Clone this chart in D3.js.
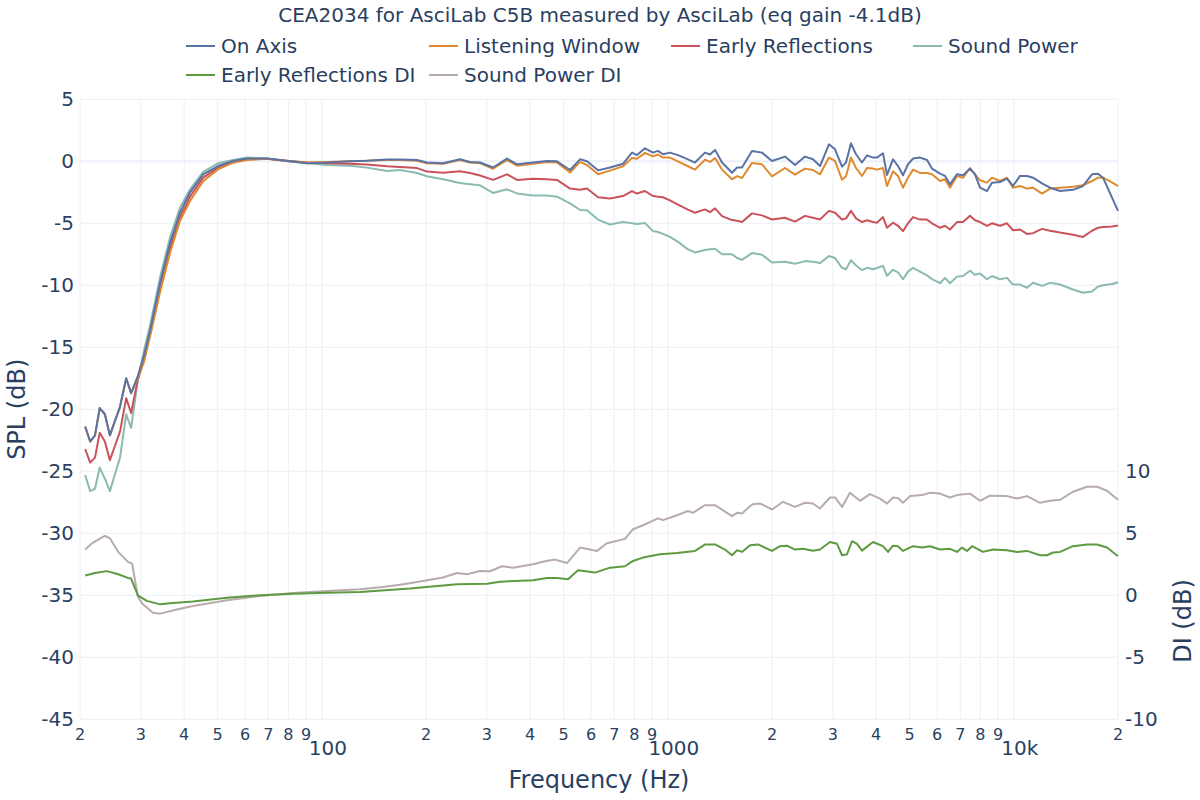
<!DOCTYPE html>
<html>
<head>
<meta charset="utf-8">
<script src="https://cdn.jsdelivr.net/npm/d3@7"></script>
<style>
  html, body { margin: 0; padding: 0; background: #ffffff; }
  svg { display: block; font-family: "DejaVu Sans", Verdana, sans-serif; }
</style>
</head>
<body>
<svg id="chart" width="1200" height="800"></svg>
<script>
const titleText = "CEA2034 for AsciLab C5B measured by AsciLab (eq gain -4.1dB)";

const splFreq = [20.7, 21.4, 22.1, 22.8, 23.6, 24.4, 25.2, 26.1, 27.2, 28.1,
  29.4, 30.6, 31.9, 34.1, 36.4, 38.9, 41.6, 45.4, 50.1, 55.4,
  60.8, 69.4, 79.3, 90.6, 103.5, 120.6, 135, 154.3, 168.2, 188.4,
  201.3, 224, 250.7, 268, 286.5, 312.4, 342.8, 366.6, 407.7, 447.5,
  478.2, 521.6, 557.5, 584, 628.3, 680.5, 742, 787.7, 814.4, 858.9,
  905.8, 936.5, 968.2, 1014, 1070, 1143, 1198, 1280, 1324, 1369,
  1434, 1533, 1585, 1638, 1751, 1871, 2000, 2181, 2331, 2491,
  2627, 2753, 2922, 3042, 3187, 3273, 3383, 3498, 3640, 3764,
  3917, 4022, 4186, 4299, 4474, 4626, 4782, 4944, 5112, 5355,
  5611, 5800, 6118, 6325, 6539, 6850, 7129, 7469, 7722, 7984,
  8364, 8647, 9120, 9555, 9945, 10419, 10916, 11361, 12061, 12721,
  13597, 14826, 15846, 16824, 17510, 18102, 19220, 20000];

const onAxis = [-21.4, -22.6, -22.1, -19.9, -20.4, -22.1, -21.0, -19.8, -17.5, -18.7,
  -17.3, -15.7, -13.6, -9.8, -6.6, -4.15, -2.5, -1.05, -0.38, 0.03,
  0.22, 0.22, 0.05, -0.15, -0.1, 0.0, 0.05, 0.15, 0.15, 0.1,
  -0.1, -0.15, 0.16, -0.05, -0.1, -0.5, 0.22, -0.24, -0.1, 0.03,
  0.0, -0.7, 0.16, 0.0, -0.73, -0.5, -0.2, 0.7, 0.5, 1.05,
  0.7, 0.84, 0.57, 0.7, 0.5, 0.16, -0.1, 0.7, 0.55, 0.92,
  -0.1, -0.92, -0.5, -0.5, 0.83, 0.7, 0.03, 0.38, -0.3, 0.38,
  0.16, -0.38, 1.37, 0.97, -0.43, -0.1, 1.45, 0.57, -0.1, 0.48,
  0.3, 0.3, 0.65, -1.1, 0.16, -0.38, -1.13, -0.24, 0.22, 0.3,
  0.1, -0.59, -1.0, -1.18, -1.86, -1.05, -1.13, -0.59, -1.05, -2.13,
  -2.4, -1.72, -1.67, -1.4, -1.99, -1.18, -1.18, -1.32, -1.78, -2.13,
  -2.4, -2.3, -1.99, -1.05, -1.0, -1.32, -2.93, -4.0];

const listeningWindow = [-21.4, -22.6, -22.1, -19.9, -20.4, -22.1, -21.0, -19.8, -17.5, -18.7,
  -17.5, -16.2, -14.1, -10.5, -7.4, -4.8, -3.2, -1.6, -0.65, -0.11,
  0.11, 0.2, 0.05, -0.1, -0.05, 0.0, 0.05, 0.1, 0.1, 0.05,
  -0.15, -0.2, 0.1, -0.1, -0.15, -0.6, 0.1, -0.35, -0.2, -0.05,
  -0.1, -0.9, -0.05, -0.3, -1.05, -0.75, -0.4, 0.27, 0.2, 0.68,
  0.4, 0.55, 0.3, 0.3, 0.0, -0.4, -0.67, 0.13, -0.05, 0.27,
  -0.67, -1.45, -1.2, -1.35, -0.13, -0.24, -1.21, -0.54, -1.08, -0.59,
  -0.7, -1.05, 0.3, 0.03, -1.48, -1.21, 0.3, -0.54, -1.18, -0.54,
  -0.59, -0.67, -0.54, -2.0, -0.81, -1.18, -2.13, -1.32, -0.67, -0.94,
  -0.94, -1.05, -1.59, -1.45, -2.13, -1.18, -1.32, -0.54, -1.05, -1.53,
  -1.72, -1.32, -1.59, -1.32, -2.13, -1.99, -2.2, -2.13, -2.6, -2.2,
  -2.13, -2.05, -1.94, -1.59, -1.32, -1.32, -1.7, -2.0];

const earlyReflections = [-23.2, -24.3, -23.9, -21.9, -22.6, -24.1, -23.0, -21.8, -19.1, -20.3,
  -17.6, -16.0, -13.9, -10.1, -7.0, -4.55, -2.85, -1.32, -0.51, -0.05,
  0.16, 0.2, 0.03, -0.1, -0.15, -0.19, -0.25, -0.4, -0.46, -0.55,
  -0.83, -0.92, -0.8, -0.95, -1.15, -1.5, -1.05, -1.5, -1.4, -1.45,
  -1.5, -2.2, -2.3, -2.2, -2.9, -3.0, -2.8, -2.4, -2.6, -2.4,
  -2.8, -2.85, -2.9, -3.15, -3.5, -3.9, -4.15, -3.88, -4.1, -3.8,
  -4.42, -4.74, -4.8, -4.89, -4.2, -4.36, -4.69, -4.55, -4.86, -4.4,
  -4.55, -4.69, -4.0, -4.15, -4.7, -4.6, -4.0, -4.6, -4.9, -4.75,
  -4.9, -4.95, -4.5, -5.36, -4.95, -5.2, -5.63, -5.0, -4.5, -4.7,
  -4.7, -5.0, -5.36, -5.2, -5.5, -4.9, -4.9, -4.4, -4.75, -4.9,
  -5.2, -5.0, -5.2, -5.0, -5.56, -5.5, -5.86, -5.8, -5.45, -5.6,
  -5.75, -5.92, -6.1, -5.6, -5.36, -5.3, -5.25, -5.17];

const soundPower = [-25.3, -26.6, -26.4, -24.7, -25.6, -26.6, -25.3, -23.9, -20.4, -21.5,
  -17.6, -15.3, -13.2, -9.3, -6.16, -3.74, -2.26, -0.86, -0.16, 0.11,
  0.3, 0.22, 0.0, -0.15, -0.3, -0.35, -0.51, -0.78, -0.7, -0.94,
  -1.2, -1.45, -1.75, -1.85, -1.94, -2.55, -2.26, -2.59, -2.75, -2.75,
  -2.85, -3.4, -3.93, -3.95, -4.7, -5.1, -4.9, -5.0, -5.05, -4.97,
  -5.63, -5.7, -5.85, -6.1, -6.5, -7.1, -7.35, -7.15, -7.1, -7.05,
  -7.5, -7.5, -7.8, -7.95, -7.4, -7.53, -8.16, -8.1, -8.27, -8.05,
  -8.1, -8.21, -7.64, -7.8, -8.59, -8.7, -7.97, -8.4, -8.78, -8.59,
  -8.7, -8.6, -8.43, -9.24, -8.75, -8.95, -9.51, -8.9, -8.59, -8.9,
  -9.2, -9.5, -9.83, -9.4, -9.83, -9.3, -9.25, -8.83, -9.15, -9.05,
  -9.51, -9.25, -9.51, -9.4, -9.94, -9.94, -10.2, -9.8, -10.05, -9.8,
  -9.94, -10.34, -10.6, -10.5, -10.1, -10.0, -9.9, -9.75];

const erdiFreq = [20.7, 22.1, 23.9, 25.8, 27.5, 28.1, 29.4, 31.2, 34.1, 36.4,
  42.4, 53.2, 66.3, 82.5, 103.5, 129, 179.8, 245.8, 300.2, 327.2,
  407.7, 447.5, 478.2, 514.7, 550.1, 615.8, 680.5, 751.9, 793, 847.5,
  949, 1063, 1198, 1280, 1369, 1463, 1533, 1585, 1638, 1728,
  1822, 2000, 2109, 2210, 2331, 2458, 2627, 2753, 2942, 3083,
  3187, 3294, 3406, 3522, 3640, 3917, 4186, 4328, 4474, 4626,
  4782, 5112, 5427, 5724, 6118, 6539, 6850, 7083, 7322, 7570,
  8144, 8706, 9555, 10214, 10916, 11902, 12470, 12978, 13597, 14826,
  16272, 17394, 18592, 20000];
const earlyReflectionsDI = [1.6, 1.8, 1.95, 1.7, 1.4, 1.35, 0.0, -0.45, -0.73, -0.65,
  -0.5, -0.2, 0.0, 0.13, 0.2, 0.27, 0.54, 0.89, 0.94, 1.1,
  1.21, 1.4, 1.4, 1.29, 2.02, 1.83, 2.23, 2.34, 2.77, 3.04,
  3.31, 3.42, 3.58, 4.09, 4.1, 3.69, 3.23, 3.63, 3.5, 4.04,
  4.1, 3.58, 3.96, 4.0, 3.69, 3.75, 3.6, 3.69, 4.3, 4.15,
  3.23, 3.3, 4.36, 4.15, 3.6, 4.3, 3.96, 3.5, 4.0, 3.96,
  3.58, 3.96, 3.85, 3.96, 3.69, 3.75, 3.5, 3.85, 3.58, 3.96,
  3.5, 3.69, 3.64, 3.5, 3.58, 3.23, 3.23, 3.45, 3.5, 3.96,
  4.1, 4.1, 3.85, 3.15];

const spdiFreq = [20.7, 21.8, 23.6, 24.4, 25.8, 27.5, 28.3, 29.4, 30.4, 32.5,
  34.1, 38.1, 42.4, 53.2, 66.3, 82.5, 103.5, 129, 150.2, 168.2,
  188.4, 224, 245.8, 262.7, 286.5, 306.2, 331.6, 357, 407.7, 441.6,
  471.9, 511.2, 557.5, 624.1, 667, 751.9, 793, 847.5, 936.5, 968.2,
  1063, 1143, 1182, 1280, 1369, 1533, 1585, 1638, 1728, 1763,
  1846, 1935, 2000, 2152, 2331, 2491, 2627, 2753, 2942, 3042,
  3187, 3360, 3592, 3838, 4104, 4299, 4474, 4626, 4782, 5011,
  5427, 5724, 6118, 6539, 6850, 7469, 7984, 8532, 9555, 10214,
  10916, 11902, 12721, 13597, 14826, 16272, 17394, 18592, 20000];
const soundPowerDI = [3.7, 4.25, 4.8, 4.6, 3.5, 2.7, 2.55, -0.13, -0.73, -1.4,
  -1.48, -1.15, -0.86, -0.4, -0.05, 0.19, 0.35, 0.48, 0.67, 0.86,
  1.08, 1.43, 1.8, 1.7, 1.96, 1.94, 2.34, 2.23, 2.5, 2.75,
  2.88, 2.6, 3.85, 3.58, 4.2, 4.55, 5.33, 5.65, 6.2, 6.06,
  6.46, 6.8, 6.65, 7.27, 7.27, 6.38, 6.65, 6.6, 7.19, 7.35,
  7.4, 7.13, 6.92, 7.54, 7.13, 7.46, 7.4, 7.0, 7.89, 7.89,
  7.13, 8.27, 7.62, 8.16, 7.8, 7.4, 7.89, 7.85, 7.46, 8.0,
  8.08, 8.27, 8.2, 7.89, 8.08, 8.2, 7.62, 8.03, 8.0, 7.8,
  8.0, 7.46, 7.62, 7.7, 8.35, 8.75, 8.75, 8.43, 7.7];

const seriesNames = ["On Axis", "Listening Window", "Early Reflections", "Sound Power",
  "Early Reflections DI", "Sound Power DI"];
const seriesColors = ["#5a72a4", "#e08a2f", "#c9525b", "#8bbab1", "#5e9a40", "#b8abab"];

const splTicks = [5, 0, -5, -10, -15, -20, -25, -30, -35, -40, -45];
const diTicks = [10, 5, 0, -5, -10];
const freqGrid = [20, 30, 40, 50, 60, 70, 80, 90, 100, 200, 300, 400, 500, 600, 700, 800, 900,
  1000, 2000, 3000, 4000, 5000, 6000, 7000, 8000, 9000, 10000, 20000];
const minorLabels = ["2", "3", "4", "5", "6", "7", "8", "9", "", "2", "3", "4", "5", "6", "7", "8", "9",
  "", "2", "3", "4", "5", "6", "7", "8", "9", "", "2"];
const majorTicks = [100, 1000, 10000];
const majorLabels = ["100", "1000", "10k"];

// ---------- drawing ----------
const svg = d3.select("#chart");
const L = 80, R = 1118, T = 99.3, B = 719.3;
const textColor = "#2a3f5f";
const gridColor = "#ebf0f8";

const x = d3.scaleLog().domain([20, 20000]).range([L, R]);
const y = d3.scaleLinear().domain([-45, 5]).range([B, T]);
const y2 = d3.scaleLinear().domain([-10, 10]).range([B, B - 0.4 * (B - T)]);

const grid = svg.append("g");
grid.selectAll("line.v").data(freqGrid).join("line")
  .attr("x1", d => x(d)).attr("x2", d => x(d))
  .attr("y1", T).attr("y2", B)
  .attr("stroke", gridColor).attr("stroke-width", 1);
grid.selectAll("line.h").data(splTicks).join("line")
  .attr("x1", L).attr("x2", R)
  .attr("y1", d => y(d)).attr("y2", d => y(d))
  .attr("stroke", gridColor).attr("stroke-width", d => d === 0 ? 2 : 1);

// left axis labels
svg.append("g").selectAll("text").data(splTicks).join("text")
  .attr("x", L - 6).attr("y", d => y(d))
  .attr("text-anchor", "end").attr("dominant-baseline", "central")
  .attr("font-size", 20).attr("fill", textColor)
  .text(d => d);

// right axis labels
svg.append("g").selectAll("text").data(diTicks).join("text")
  .attr("x", R + 7).attr("y", d => y2(d))
  .attr("text-anchor", "start").attr("dominant-baseline", "central")
  .attr("font-size", 20).attr("fill", textColor)
  .text(d => d);

// bottom minor labels
svg.append("g").selectAll("text").data(freqGrid).join("text")
  .attr("x", d => x(d)).attr("y", B + 15)
  .attr("text-anchor", "middle").attr("dominant-baseline", "central")
  .attr("font-size", 16).attr("fill", textColor)
  .text((d, i) => minorLabels[i]);
svg.append("g").selectAll("text").data(majorTicks).join("text")
  .attr("x", d => x(d) + 6).attr("y", B + 29)
  .attr("text-anchor", "middle").attr("dominant-baseline", "central")
  .attr("font-size", 20).attr("fill", textColor)
  .text((d, i) => majorLabels[i]);

// axis titles
svg.append("text").attr("x", (L + R) / 2).attr("y", 780)
  .attr("text-anchor", "middle").attr("dominant-baseline", "central")
  .attr("font-size", 24).attr("fill", textColor).text("Frequency (Hz)");
svg.append("text").attr("transform", `translate(17,${(T + B) / 2}) rotate(-90)`)
  .attr("text-anchor", "middle").attr("dominant-baseline", "central")
  .attr("font-size", 24).attr("fill", textColor).text("SPL (dB)");
svg.append("text").attr("transform", `translate(1183,621) rotate(-90)`)
  .attr("text-anchor", "middle").attr("dominant-baseline", "central")
  .attr("font-size", 24).attr("fill", textColor).text("DI (dB)");

// title
svg.append("text").attr("x", 600).attr("y", 15)
  .attr("text-anchor", "middle").attr("dominant-baseline", "central")
  .attr("font-size", 20).attr("fill", textColor).text(titleText);

// curves
const plot = svg.append("g");
const splSeries = [onAxis, listeningWindow, earlyReflections, soundPower];
const lineSpl = d3.line().x(d => x(d[0])).y(d => y(d[1]));
const lineDi = d3.line().x(d => x(d[0])).y(d => y2(d[1]));

const diSeries = [[erdiFreq, earlyReflectionsDI], [spdiFreq, soundPowerDI]];
diSeries.slice().reverse().forEach((s, k) => {
  const idx = 5 - k;
  plot.append("path")
    .datum(d3.zip(s[0], s[1]))
    .attr("d", lineDi)
    .attr("fill", "none").attr("stroke", seriesColors[idx])
    .attr("stroke-width", 2).attr("stroke-linejoin", "round");
});
[3, 2, 1, 0].forEach(i => {
  plot.append("path")
    .datum(d3.zip(splFreq, splSeries[i]))
    .attr("d", lineSpl)
    .attr("fill", "none").attr("stroke", seriesColors[i])
    .attr("stroke-width", 2).attr("stroke-linejoin", "round");
});

// legend
const legendX = [186, 429, 671, 913];
const legendY = [46, 75];
const legend = svg.append("g");
seriesNames.forEach((name, i) => {
  const col = i % 4, row = Math.floor(i / 4);
  const lx = legendX[col], ly = legendY[row];
  legend.append("line").attr("x1", lx).attr("x2", lx + 29)
    .attr("y1", ly).attr("y2", ly)
    .attr("stroke", seriesColors[i]).attr("stroke-width", 2);
  legend.append("text").attr("x", lx + 35).attr("y", ly)
    .attr("dominant-baseline", "central")
    .attr("font-size", 20).attr("fill", textColor).text(name);
});
</script>
</body>
</html>
